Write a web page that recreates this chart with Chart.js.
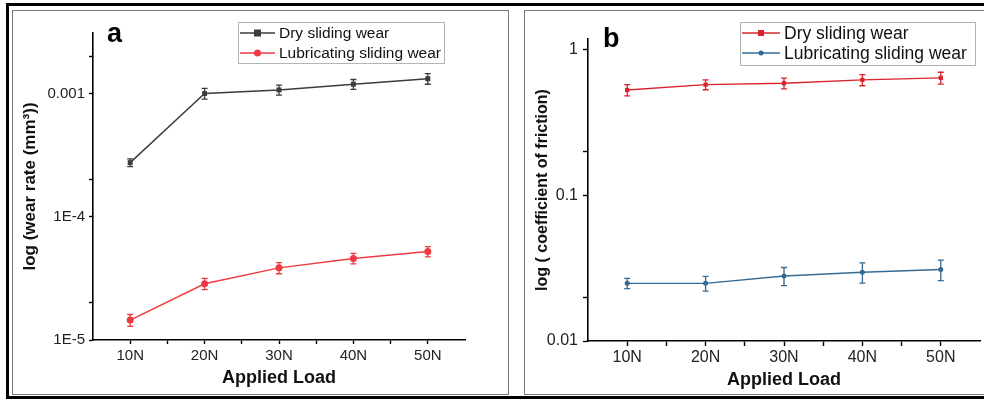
<!DOCTYPE html>
<html>
<head>
<meta charset="utf-8">
<script src="https://cdn.jsdelivr.net/npm/chart.js@4"></script>
<style>
  html, body { margin: 0; padding: 0; background: #fff; }
  body { width: 984px; height: 400px; position: relative; overflow: hidden; font-family: "Liberation Sans", Arial, sans-serif; }
  .frame { position: absolute; left: 6px; top: 3px; right: -10px; bottom: 1px; border: 3px solid #000; }
  .panel { position: absolute; border: 1.5px solid #7a7a7a; }
  #panelA { left: 12px; top: 10px; width: 495px; height: 383px; }
  #panelB { left: 524px; top: 10px; width: 480px; height: 383px; }
  canvas { position: absolute; }
  #chartA { left: 14px; top: 12px; }
  #chartB { left: 526px; top: 12px; }
</style>
</head>
<body>
<div class="frame"></div>
<div class="panel" id="panelA"></div>
<div class="panel" id="panelB"></div>
<canvas id="chartA" width="492" height="380"></canvas>
<canvas id="chartB" width="458" height="380"></canvas>
<script>
// data
const loads = ['10N', '20N', '30N', '40N', '50N'];

const dryWear = [2.75e-4, 1.0e-3, 1.07e-3, 1.19e-3, 1.32e-3];
const dryWearErr = [2e-5, 1e-4, 1e-4, 1.1e-4, 1.3e-4];
const lubWear = [1.45e-5, 2.86e-5, 3.85e-5, 4.59e-5, 5.23e-5];
const lubWearErr = [1.6e-6, 3e-6, 4e-6, 4.5e-6, 5e-6];

const dryCof = [0.531, 0.578, 0.591, 0.623, 0.643];
const dryCofErr = [0.047, 0.045, 0.05, 0.055, 0.06];
const lubCof = [0.0249, 0.0249, 0.028, 0.0297, 0.031];
const lubCofErr = [0.002, 0.0029, 0.004, 0.0047, 0.005];

// y ticks: decades get a label, the 2x ticks are unlabelled minors
const wearTicks = [1e-5, 2e-5, 1e-4, 2e-4, 1e-3, 2e-3];
const wearTickLabels = ['1E-5', '', '1E-4', '', '0.001', ''];
const cofTicks = [0.01, 0.02, 0.1, 0.2, 1];
const cofTickLabels = ['0.01', '', '0.1', '', '1'];
const loadTicks = [1, 1.5, 2, 2.5, 3, 3.5, 4, 4.5, 5];

const FONT = '"Liberation Sans", Arial, sans-serif';

// points placed at 1..5 on a linear x axis so half-step minor ticks can be drawn
function toPoints(values) {
    return values.map((v, i) => ({ x: i + 1, y: v }));
}

// vertical error bars with caps, drawn through the y scale
const errorBars = {
    id: 'errorBars',
    afterDatasetsDraw(chart) {
        const ctx = chart.ctx;
        const ys = chart.scales.y;
        chart.data.datasets.forEach((ds, i) => {
            const meta = chart.getDatasetMeta(i);
            ctx.save();
            ctx.strokeStyle = ds.borderColor;
            ctx.lineWidth = 1.3;
            meta.data.forEach((pt, j) => {
                const v = ds.data[j].y, e = ds.errors[j];
                const top = ys.getPixelForValue(v + e);
                const bot = ys.getPixelForValue(v - e);
                ctx.beginPath();
                ctx.moveTo(pt.x, top); ctx.lineTo(pt.x, bot);
                ctx.moveTo(pt.x - 3, top); ctx.lineTo(pt.x + 3, top);
                ctx.moveTo(pt.x - 3, bot); ctx.lineTo(pt.x + 3, bot);
                ctx.stroke();
            });
            ctx.restore();
        });
    }
};

// Origin-style boxed legend with line + marker sample
const boxLegend = {
    id: 'boxLegend',
    afterDraw(chart, args, o) {
        const ctx = chart.ctx;
        ctx.save();
        ctx.strokeStyle = '#b5b5b5';
        ctx.lineWidth = 1;
        ctx.strokeRect(o.x + 0.5, o.y + 0.5, o.w, o.h);
        ctx.font = o.fontSize + 'px ' + FONT;
        ctx.textBaseline = 'middle';
        chart.data.datasets.forEach((ds, i) => {
            const cy = o.y + o.rowTop + i * o.rowGap;
            const x0 = o.x + 2, x1 = x0 + o.lineLen, mx = (x0 + x1) / 2;
            ctx.strokeStyle = ds.borderColor;
            ctx.lineWidth = 1.4;
            ctx.beginPath(); ctx.moveTo(x0, cy); ctx.lineTo(x1, cy); ctx.stroke();
            ctx.fillStyle = ds.borderColor;
            const r = ds.pointRadius;
            if (ds.pointStyle === 'rect') {
                ctx.fillRect(mx - r, cy - r, 2 * r, 2 * r);
            } else {
                ctx.beginPath(); ctx.arc(mx, cy, r, 0, Math.PI * 2); ctx.fill();
            }
            ctx.fillStyle = '#111';
            ctx.fillText(ds.label, x1 + 4, cy + 1);
        });
        ctx.restore();
    }
};

const panelLetter = {
    id: 'panelLetter',
    afterDraw(chart, args, o) {
        const ctx = chart.ctx;
        ctx.save();
        ctx.font = 'bold 27px ' + FONT;
        ctx.fillStyle = '#000';
        ctx.textBaseline = 'alphabetic';
        ctx.fillText(o.text, o.x, o.y);
        ctx.restore();
    }
};

function makeChart(id, cfg) {
    const series = cfg.series.map(s => ({
        label: s.label,
        data: toPoints(s.values),
        errors: s.errors,
        borderColor: s.color,
        backgroundColor: s.color,
        borderWidth: 1.4,
        pointStyle: s.marker,
        pointRadius: s.radius,
        pointBorderWidth: 0,
        tension: 0
    }));

    return new Chart(document.getElementById(id), {
        type: 'line',
        data: { datasets: series },
        options: {
            responsive: false,
            animation: false,
            devicePixelRatio: 1,
            layout: { padding: cfg.padding },
            plugins: {
                legend: { display: false },
                tooltip: { enabled: false },
                boxLegend: cfg.legend,
                panelLetter: cfg.letter
            },
            scales: {
                x: {
                    type: 'linear',
                    min: 0.5,
                    max: 5.5,
                    afterBuildTicks: s => { s.ticks = loadTicks.map(v => ({ value: v })); },
                    afterFit: s => { s.height = cfg.xHeight; },
                    grid: { drawOnChartArea: false, drawTicks: true, tickLength: cfg.tickLen, tickColor: '#000', tickWidth: 1.4 },
                    border: { color: '#000', width: 1.6 },
                    ticks: {
                        autoSkip: false,
                        maxRotation: 0,
                        padding: cfg.xPad,
                        color: '#222',
                        font: { family: FONT, size: cfg.tickSize },
                        callback: v => Number.isInteger(v) ? loads[v - 1] : ''
                    },
                    title: {
                        display: true,
                        text: 'Applied Load',
                        color: '#111',
                        font: { family: FONT, size: 18, weight: 'bold' },
                        padding: { top: 0, bottom: cfg.xTitlePad }
                    }
                },
                y: {
                    type: 'logarithmic',
                    min: cfg.yMin,
                    max: cfg.yMax,
                    afterBuildTicks: s => { s.ticks = cfg.yTicks.map(v => ({ value: v })); },
                    afterFit: s => { s.width = cfg.yWidth; },
                    grid: { drawOnChartArea: false, drawTicks: true, tickLength: cfg.tickLen, tickColor: '#000', tickWidth: 1.4 },
                    border: { color: '#000', width: 1.6 },
                    ticks: {
                        autoSkip: false,
                        padding: cfg.yPad,
                        color: '#222',
                        font: { family: FONT, size: cfg.tickSize },
                        callback: (v, i) => cfg.yLabels[i]
                    },
                    title: {
                        display: true,
                        text: cfg.yTitle,
                        color: '#111',
                        font: { family: FONT, size: cfg.yTitleSize, weight: 'bold' },
                        padding: { top: cfg.yTitlePad, bottom: 0 }
                    }
                }
            }
        },
        plugins: [errorBars, boxLegend, panelLetter]
    });
}

makeChart('chartA', {
    series: [
        { label: 'Dry sliding wear', values: dryWear, errors: dryWearErr, color: '#3c3c3c', marker: 'rect', radius: 3.5 },
        { label: 'Lubricating sliding wear', values: lubWear, errors: lubWearErr, color: '#ee3a43', marker: 'circle', radius: 3.5 }
    ],
    padding: { left: 0, right: 41, top: 21, bottom: 0 },
    xHeight: 52, yWidth: 79, tickLen: 4, xPad: 3, yPad: 4, tickSize: 15,
    xTitlePad: 3,
    yMin: 1e-5, yMax: 3.1e-3, yTicks: wearTicks, yLabels: wearTickLabels,
    yTitle: 'log (wear rate (mm³))', yTitleSize: 17, yTitlePad: 6,
    legend: { x: 224, y: 10, w: 206, h: 41, rowTop: 11, rowGap: 20, lineLen: 35, fontSize: 15.5 },
    letter: { text: 'a', x: 93, y: 30 }
});

makeChart('chartB', {
    series: [
        { label: 'Dry sliding wear', values: dryCof, errors: dryCofErr, color: '#d9232d', marker: 'rect', radius: 3 },
        { label: 'Lubricating sliding wear', values: lubCof, errors: lubCofErr, color: '#356a93', marker: 'circle', radius: 2.5 }
    ],
    padding: { left: 0, right: 2, top: 27, bottom: 0 },
    xHeight: 51, yWidth: 62, tickLen: 5, xPad: 2, yPad: 5, tickSize: 16,
    xTitlePad: 1,
    yMin: 0.01, yMax: 1.19, yTicks: cofTicks, yLabels: cofTickLabels,
    yTitle: 'log ( coefficient of friction)', yTitleSize: 16, yTitlePad: 7,
    legend: { x: 214, y: 10, w: 235, h: 43, rowTop: 11, rowGap: 20, lineLen: 38, fontSize: 17.5 },
    letter: { text: 'b', x: 77, y: 35 }
});
</script>
</body>
</html>
